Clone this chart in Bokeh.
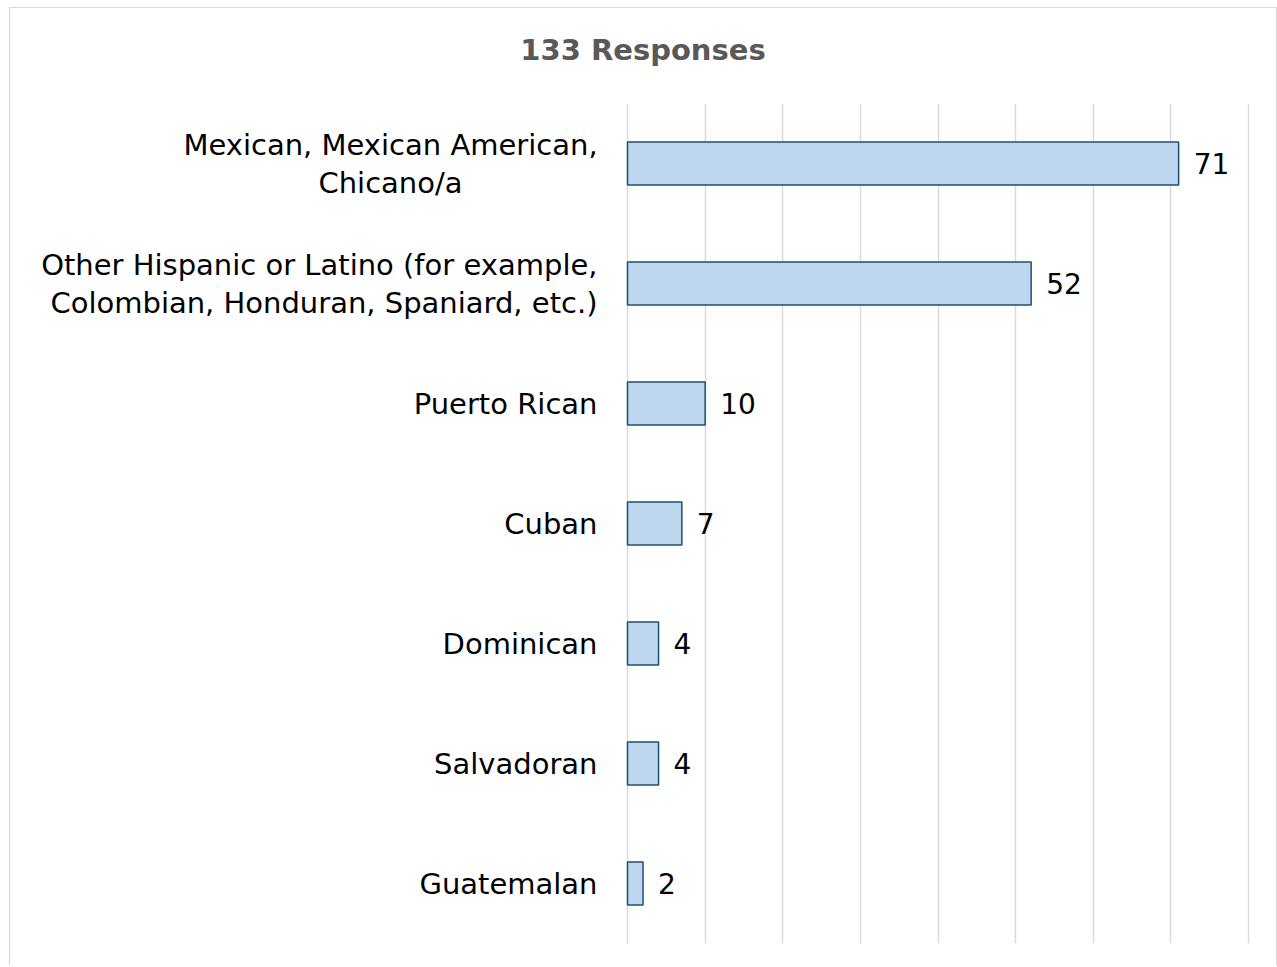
from bokeh.plotting import figure
from bokeh.models import FactorRange, Range1d, FixedTicker, ColumnDataSource, Div
from bokeh.layouts import column
from bokeh.embed import file_html
from bokeh.resources import INLINE
from bokeh.core.properties import value

title_text = "133 Responses"
categories = [
    "Mexican, Mexican American,\nChicano/a",
    "Other Hispanic or Latino (for example,\nColombian, Honduran, Spaniard, etc.)",
    "Puerto Rican",
    "Cuban",
    "Dominican",
    "Salvadoran",
    "Guatemalan",
]
counts = [71, 52, 10, 7, 4, 4, 2]
grid_ticks = [0, 10, 20, 30, 40, 50, 60, 70, 80]

FONT = "DejaVu Sans"
FIG_W = 1266
LABEL_PX = 617      # space from the chart box's left edge to the zero line
PLOT_PX = 621       # width of the value area (0 .. last grid tick)
RIGHT_PX = 1        # frame space right of the last grid line
LINE_GAP = 19       # half distance between the two lines of a wrapped label

# value scale: 0 sits LABEL_PX from the frame's left edge, so labels live inside the frame
x_max = grid_ticks[-1]
x_start = -x_max * LABEL_PX / PLOT_PX
x_end = x_max + x_max * RIGHT_PX / PLOT_PX

src = ColumnDataSource(dict(cat=categories, val=counts, lab=[str(c) for c in counts]))

# category label rows (one row per text line)
rows = dict(cat=[], txt=[], align=[], dx=[], dy=[])
for i, c in enumerate(categories):
    lines = c.split("\n")
    n = len(lines)
    for j, ln in enumerate(lines):
        rows["cat"].append(c)
        rows["txt"].append(ln)
        rows["dy"].append((j - (n - 1) / 2) * 2 * LINE_GAP)
        if i == 0:
            rows["align"].append("center")   # the two lines are centred on each other
            rows["dx"].append(-237)
        else:
            rows["align"].append("right")
            rows["dx"].append(-30)
rows["x"] = [0] * len(rows["txt"])
lab_src = ColumnDataSource(rows)

p = figure(
    width=FIG_W, height=862,
    y_range=FactorRange(*reversed(categories)),
    x_range=Range1d(x_start, x_end),
    output_backend="svg", toolbar_location=None,
    min_border_left=0, min_border_right=27, min_border_top=0, min_border_bottom=22,
    margin=0,
)
p.outline_line_color = None
p.border_fill_color = "white"

p.hbar(y="cat", right="val", left=0, height=0.36, source=src,
       fill_color="#BDD7EE", line_color="#1F4E79", line_width=1.5)

p.text(x="val", y="cat", text="lab", source=src, x_offset=15,
       text_align="left", text_baseline="middle",
       text_font=value(FONT), text_font_size="28px", text_color="#000000")

p.text(x="x", y="cat", text="txt", source=lab_src, x_offset="dx", y_offset="dy",
       text_align="align", text_baseline="middle",
       text_font=value(FONT), text_font_size="29px", text_color="#000000")

p.xaxis.visible = False
p.yaxis.visible = False
p.xgrid.ticker = FixedTicker(ticks=grid_ticks)
p.xgrid.grid_line_color = "#D9D9D9"
p.xgrid.grid_line_width = 1.5
p.ygrid.grid_line_color = None

title = Div(text=title_text, width=FIG_W, height=95, margin=0,
            styles={"font-family": FONT, "font-size": "29px", "font-weight": "bold",
                    "color": "#595959", "text-align": "center", "line-height": "84px"})

layout = column(title, p, spacing=0, margin=0,
                styles={"border-top": "1px solid #D9D9D9", "border-left": "1px solid #D9D9D9",
                        "border-right": "1px solid #D9D9D9", "margin-left": "9px",
                        "margin-top": "7px", "background-color": "white"})

open("out.html", "w").write(file_html(layout, INLINE))
